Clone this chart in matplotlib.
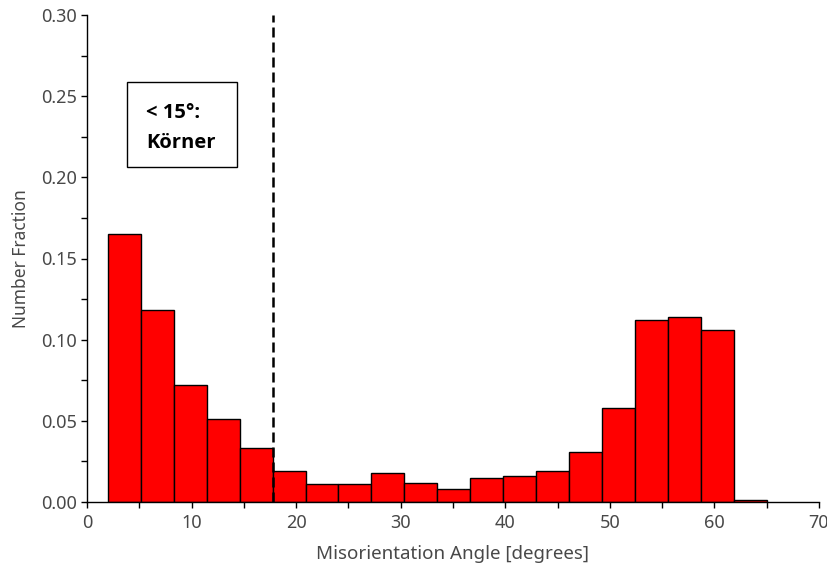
import matplotlib
matplotlib.use("Agg")
import matplotlib.pyplot as plt
import numpy as np

# misorientation histogram: 20 bins of 3.15 deg starting at 2 deg
bin_start = 2.0
bin_width = 3.15
fractions = [0.165, 0.118, 0.072, 0.051, 0.033, 0.019, 0.011, 0.011, 0.018, 0.012,
             0.008, 0.015, 0.016, 0.019, 0.031, 0.058, 0.112, 0.114, 0.106, 0.001]
cutoff_angle = 17.75
note_lines = ["< 15°:", "Körner"]

plt.rcParams['font.family'] = ['Noto Sans', 'DejaVu Sans']

fig = plt.figure(figsize=(8.27, 5.77), dpi=100)
ax = fig.add_axes([87/827, 1 - 502/577, (819-87)/827, (502-15)/577])

left_edges = bin_start + bin_width * np.arange(len(fractions))
ax.bar(left_edges, fractions, width=bin_width, align='edge',
       color='#ff0000', edgecolor='black', linewidth=1.0, zorder=2)

ax.axvline(cutoff_angle, color='black', linestyle=(0, (4, 2)), linewidth=1.8, zorder=3)

# annotation box
ax.add_patch(plt.Rectangle((126.7/827, 1 - 166.7/577), (237-126.7)/827, (166.7-81.7)/577,
                           transform=fig.transFigure, facecolor='white', edgecolor='black',
                           linewidth=1.0, zorder=4))
for i, line in enumerate(note_lines):
    fig.text(146/827, 1 - (113 + 30*i)/577, line, fontsize=14.5, fontweight='bold',
             family=['Open Sans', 'DejaVu Sans'], va='center', ha='left', zorder=5)

ax.set_xlim(0, 70)
ax.set_ylim(0, 0.30)
ax.set_xticks(np.arange(0, 71, 10))
ax.set_xticks(np.arange(5, 70, 10), minor=True)
ax.set_yticks(np.arange(0, 0.301, 0.05))
ax.set_yticks(np.arange(0.025, 0.3, 0.05), minor=True)
ax.yaxis.set_major_formatter(matplotlib.ticker.FormatStrFormatter('%.2f'))

for s in ['top', 'right']:
    ax.spines[s].set_visible(False)
for s in ['left', 'bottom']:
    ax.spines[s].set_linewidth(1.0)

ax.tick_params(axis='both', which='both', direction='out', length=4, width=1.0,
               labelsize=13, labelcolor='#484848')
ax.tick_params(axis='x', pad=5)

ax.set_xlabel('Misorientation Angle [degrees]', fontsize=13.5, color='#484848', labelpad=9)
ax.set_ylabel('Number Fraction', fontsize=12.5, color='#484848', labelpad=8)

fig.savefig('out.png', dpi=100)
